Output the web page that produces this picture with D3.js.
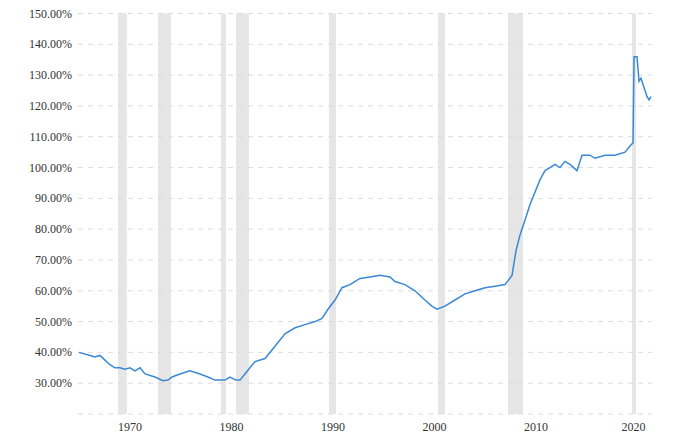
<!DOCTYPE html>
<html><head><meta charset="utf-8">
<script src="https://cdn.jsdelivr.net/npm/d3@7"></script>
<style>body{margin:0;background:#fff}text{font-family:"Liberation Serif",serif;font-size:12px;fill:#333}</style>
</head><body><svg id="c" width="690" height="435"></svg>
<script>
// debt to gdp
var years = [1964.98,1966.06,1966.55,1967.04,1967.54,1968.03,1968.52,1969.01,1969.51,1970,1970.49,1970.99,1971.48,1972.46,1973.25,1973.74,1974.14,1974.93,1975.91,1976.90,1977.68,1978.37,1979.36,1979.85,1980.44,1980.84,1981.33,1981.82,1982.32,1983.30,1984.29,1985.27,1986.26,1987.24,1988.23,1988.92,1989.51,1990.20,1990.89,1991.67,1992.66,1993.65,1994.63,1995.62,1996.11,1997.09,1998.08,1999.06,1999.75,2000.25,2001.03,2002.02,2003.00,2003.99,2004.98,2005.96,2006.95,2007.64,2008.03,2008.42,2008.92,2009.41,2009.90,2010.39,2010.89,2011.38,2011.87,2012.36,2012.86,2013.35,2014.04,2014.53,2015.32,2015.81,2016.80,2017.78,2018.77,2019.26,2019.56,2019.66,2019.95,2020.15,2020.34,2020.64,2020.94,2021.13,2021.33]
var values = [40,39,38.5,39,37.5,36,35,35,34.5,35,34,35,33,32,30.8,31,32,33,34,33,32,31,31,32,31,31,33,35,37,38,42,46,48,49,50,51,54,57,61,62,64,64.5,65,64.5,63,62,60,57,55,54,55,57,59,60,61,61.5,62,65,73,78,83,88,92,96,99,100,101,100,102,101,99,104,104,103,104,104,105,107,108,136,136,128,129,126,123,122,123]
var recessions = [[1968.82,1969.70],[1972.76,1974.04],[1978.97,1979.46],[1980.44,1981.72],[1989.61,1990.30],[2000.34,2001.03],[2007.24,2008.72],[2019.46,2019.86]]
var yTicks = [30,40,50,60,70,80,90,100,110,120,130,140,150]
var xTicks = [1970,1980,1990,2000,2010,2020]

var svg = d3.select('#c')
var x = d3.scaleLinear().domain([1964.98,2021.33]).range([79,651])
var y = d3.scaleLinear().domain([20,150]).range([414,13.5])

svg.selectAll('rect.rec').data(recessions).enter().append('rect')
  .attr('x',function(d){return x(d[0])}).attr('y',y(150))
  .attr('width',function(d){return x(d[1])-x(d[0])}).attr('height',y(20)-y(150))
  .style('fill','#e6e6e6')

svg.selectAll('line.g').data([20].concat(yTicks)).enter().append('line')
  .attr('x1',78).attr('x2',652)
  .attr('y1',function(d){return y(d)}).attr('y2',function(d){return y(d)})
  .style('stroke','#dcdcdc').style('stroke-dasharray','5,5')

svg.selectAll('text.y').data(yTicks).enter().append('text')
  .attr('x',72).attr('y',function(d){return y(d)+4}).attr('text-anchor','end')
  .text(function(d){return d.toFixed(2)+'%'})

svg.selectAll('text.x').data(xTicks).enter().append('text')
  .attr('x',function(d){return x(d)+(d==2020?-4:0)}).attr('y',431).attr('text-anchor','middle')
  .text(function(d){return d})

var line = d3.line().x(function(d,i){return x(years[i])}).y(function(d){return y(d)})
svg.append('path').datum(values).attr('d',line)
  .style('fill','none').style('stroke','#3b88d6').style('stroke-width',1.5)
</script></body></html>
